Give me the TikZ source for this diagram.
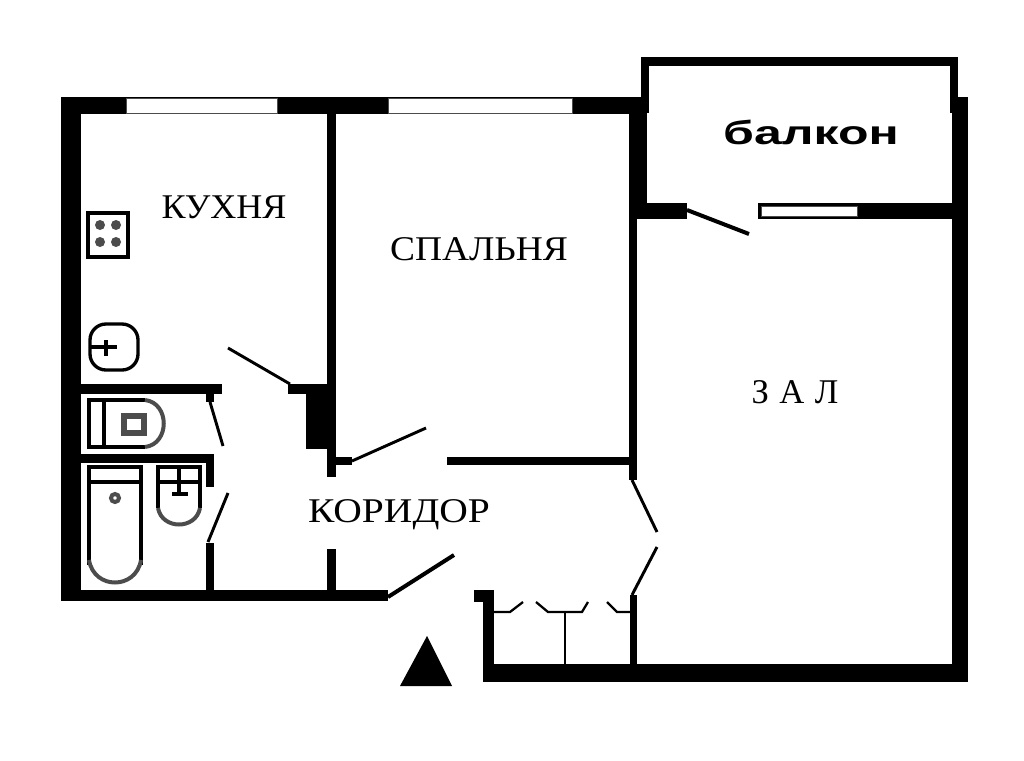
\documentclass[tikz,border=0pt]{standalone}
\usepackage{fontspec}
\setmainfont{Liberation Serif}
\newfontfamily\balconyfont{Liberation Sans}
\begin{document}
\begin{tikzpicture}[x=0.75pt,y=-0.75pt,
    wall/.style={fill=black},
    pane/.style={fill=white,draw=black!70,line width=0.6pt},
    door/.style={draw=black,line width=2.2pt},
    thindoor/.style={draw=black,line width=1.7pt},
    fixture/.style={draw=black,line width=2.5pt},
    pixelfix/.style={draw=black!70,line width=3pt},
    room/.style={font=\fontsize{26}{26}\selectfont,inner sep=0pt}]
       \useasboundingbox (0,0) rectangle (1024,760);

       \fill[wall] (61,97) rectangle (641,114);
       \fill[wall] (61,97) rectangle (81,601);
       \fill[wall] (61,590) rectangle (388,601);
       \fill[wall] (327,114) rectangle (336,477);
       \fill[wall] (327,549) rectangle (336,590);
       \fill[wall] (81,384) rectangle (222,394);
       \fill[wall] (206,394) rectangle (214,402);
       \fill[wall] (81,454) rectangle (214,463);
       \fill[wall] (206,463) rectangle (214,487);
       \fill[wall] (206,543) rectangle (214,590);
       \fill[wall] (288,384) rectangle (327,394);
       \fill[wall] (306,394) rectangle (327,449);
       \fill[wall] (336,457) rectangle (352,465);
       \fill[wall] (447,457) rectangle (630,465);
       \fill[wall] (629,113) rectangle (637,480);
       \fill[wall] (629,113) rectangle (647,219);
       \fill[wall] (630,595) rectangle (637,665);
       \fill[wall] (483,664) rectangle (968,682);
       \fill[wall] (483,590) rectangle (494,682);
       \fill[wall] (474,590) rectangle (494,602);
       \fill[wall] (952,97) rectangle (968,682);
       \fill[wall] (641,57) rectangle (958,66);
       \fill[wall] (641,57) rectangle (649,113);
       \fill[wall] (950,57) rectangle (958,113);
       \fill[wall] (637,203) rectangle (687,219);
       \fill[wall] (758,203) rectangle (952,219);

       \filldraw[pane] (126,98) rectangle (277,113);
       \filldraw[pane] (388,98) rectangle (572,113);
       \filldraw[pane] (761,206) rectangle (857,216);

       \draw[door] (228,348) -- (290,384);
       \draw[door] (210,402) -- (223,446);
       \draw[door] (208,542) -- (228,493);
       \draw[door] (352,461) -- (426,428);
       \draw[door,line width=3pt] (388,597) -- (454,555);
       \draw[door] (632,480) -- (657,532);
       \draw[door] (657,547) -- (632,595);
       \draw[door,line width=3pt] (687,210) -- (749,234);

       \draw[thindoor] (494,612) -- (510,612) -- (523,602);
       \draw[thindoor] (536,602) -- (548,612) -- (582,612) -- (588,602);
       \draw[thindoor] (607,602) -- (617,612) -- (630,612);
       \draw[thindoor] (565,612) -- (565,664);

       \fill[wall] (400,686) -- (427,636) -- (452,686) -- cycle;

       \draw[fixture] (88,213) rectangle (128,257);
       \fill[black!70] (100,225) circle (5);
       \fill[black!70] (116,225) circle (5);
       \fill[black!70] (100,242) circle (5);
       \fill[black!70] (116,242) circle (5);

       \draw[fixture,rounded corners=12] (90,324) rectangle (138,370);
       \draw[fixture] (90,347) -- (117,347);
       \draw[fixture] (106,340) -- (106,356);

       \draw[fixture] (145,447) -- (89,447) -- (89,400) -- (145,400);
       \draw[fixture,line width=3.5pt] (104,400) -- (104,447);
       \draw[pixelfix] (145,400) .. controls (170,403) and (170,444) .. (145,447);
       \draw[pixelfix,line width=4pt] (124,416) rectangle (144,433);

       \draw[fixture] (89,565) -- (89,467) -- (141,467) -- (141,565);
       \draw[fixture] (89,482) -- (141,482);
       \draw[pixelfix] (89,560) .. controls (94,590) and (136,590) .. (141,560);
       \draw[pixelfix] (115,498) circle (4);

       \draw[fixture,line width=3pt] (158,508) -- (158,467) -- (200,467) -- (200,508);
       \draw[fixture,line width=3pt] (158,482) -- (200,482);
       \draw[fixture,line width=3pt] (179,467) -- (179,494);
       \draw[fixture,line width=3.5pt] (172,494) -- (188,494);
       \draw[pixelfix] (158,508) .. controls (162,530) and (196,530) .. (200,508);

       \node[room,xscale=1.04] (kitchen) at (224,207) {КУХНЯ};
       \node[room,xscale=1.08] (bedroom) at (479,249) {СПАЛЬНЯ};
       \node[room,xscale=1.14] (hall) at (399,515) {КОРИДОР};
       \node[room] (lounge) at (795,392) {З\hspace{0.3em}А\hspace{0.3em}Л};
       \node[inner sep=0pt,xscale=1.5,font=\fontsize{25}{25}\balconyfont\bfseries] (balcony) at (811,132) {балкон};
    \end{tikzpicture}
\end{document}
